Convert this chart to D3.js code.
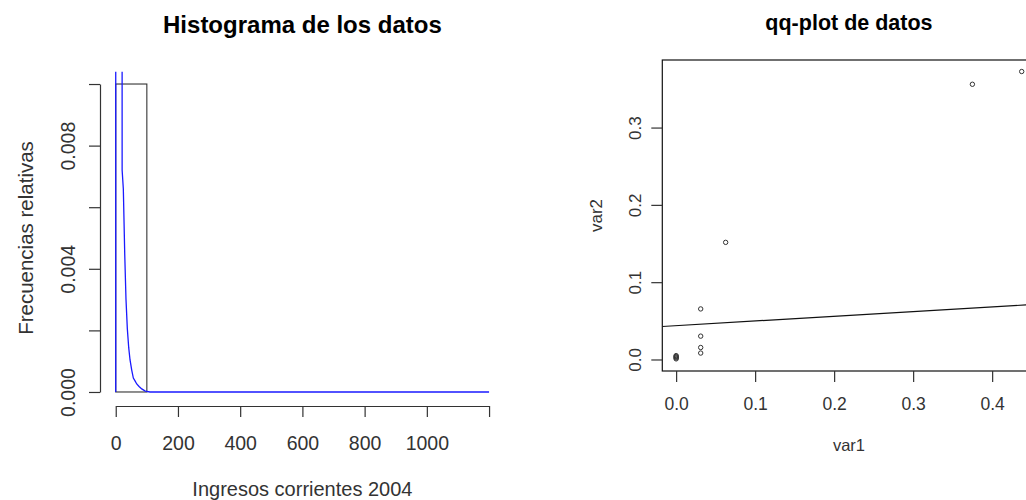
<!DOCTYPE html>
<html>
<head>
<meta charset="utf-8">
<script src="https://cdn.jsdelivr.net/npm/d3@7"></script>
<style>
  body { margin: 0; background: #fff; }
  text { font-family: "Liberation Sans", Arial, sans-serif; fill: #333; }
</style>
</head>
<body>
<svg id="chart"></svg>
<script>
// histogram of the data
const histBreaks = [0, 100, 200, 300, 400, 500, 600, 700, 800, 900, 1000, 1100, 1200];
const histDensity = [0.01, 0, 0, 0, 0, 0, 0, 0, 0, 0, 0, 0];

// fitted density curve (blue)
const densX = [0, 0, 20.3, 20.6, 24.4, 29, 33, 37.3, 41.8, 46, 51.4, 56.6, 62, 67.5, 75, 83.6, 95, 110, 1200];
const densY = [0, 0.02, 0.02, 0.0072, 0.0066, 0.00445, 0.003, 0.00205, 0.00143, 0.00104, 0.00071, 0.00045, 0.00036, 0.00026, 0.00018, 0.0001, 0.00003, 0, 0];

const histYTicks = [0, 0.002, 0.004, 0.006, 0.008, 0.01];
const histYLabels = ['0.000', '', '0.004', '', '0.008', ''];
const histXTicks = [0, 200, 400, 600, 800, 1000, 1200];
const histXLabels = ['0', '200', '400', '600', '800', '1000', ''];

// qq-plot points
const qqX = [0, 0, 0, 0, 0, 0.0311, 0.0311, 0.0311, 0.0311, 0.0627, 0.375, 0.4374];
const qqY = [0.0008, 0.002, 0.003, 0.004, 0.005, 0.0083, 0.0155, 0.0302, 0.0654, 0.1515, 0.356, 0.3725];
const qqLine = { intercept: 0.0437, slope: 0.0608 };

const qqXTicks = [0, 0.1, 0.2, 0.3, 0.4];
const qqYTicks = [0, 0.1, 0.2, 0.3];

const width = 1026,
      height = 500,
      ink = '#333';

const $svg = d3.select('#chart')
  .attr('width', width)
  .attr('height', height);

$svg.append('rect')
  .attr('width', width)
  .attr('height', height)
  .attr('fill', '#fff');

// ---------- left panel ----------
const xL = d3.scaleLinear().domain([-48, 1248]).range([100.8, 504]),
      yL = d3.scaleLinear().domain([-0.0004, 0.0104]).range([404.3, 71.7]);

$svg.append('clipPath')
    .attr('id', 'clipL')
  .append('rect')
    .attr('x', xL.range()[0])
    .attr('y', yL.range()[1])
    .attr('width', xL.range()[1] - xL.range()[0])
    .attr('height', yL.range()[0] - yL.range()[1]);

const bins = histDensity.map((d, i) => ({ x0: histBreaks[i], x1: histBreaks[i + 1], d: d }));

$svg.append('g')
  .selectAll('rect')
  .data(bins)
  .enter()
  .append('rect')
    .attr('x', (b) => xL(b.x0))
    .attr('y', (b) => yL(b.d))
    .attr('width', (b) => xL(b.x1) - xL(b.x0))
    .attr('height', (b) => yL(0) - yL(b.d))
    .attr('fill', 'none')
    .attr('stroke', ink)
    .attr('stroke-width', 1.1);

const densLine = d3.line()
  .x((d) => xL(d[0]))
  .y((d) => yL(d[1]));

$svg.append('path')
  .datum(d3.zip(densX, densY))
  .attr('clip-path', 'url(#clipL)')
  .attr('d', densLine)
  .attr('fill', 'none')
  .attr('stroke', '#1a1aff')
  .attr('stroke-width', 1.3);

const axisYL = $svg.append('g')
  .attr('transform', `translate(${xL.range()[0] - 0.8},0)`)
  .call(d3.axisLeft(yL.copy().domain([0, 0.01]).range([yL(0), yL(0.01)]))
    .tickValues(histYTicks)
    .tickFormat((d, i) => histYLabels[i])
    .tickSize(11)
    .tickSizeOuter(0));

const axisXL = $svg.append('g')
  .attr('transform', `translate(0,${yL.range()[0] + 1.7})`)
  .call(d3.axisBottom(xL.copy().domain([0, 1200]).range([xL(0), xL(1200)]))
    .tickValues(histXTicks)
    .tickFormat((d, i) => histXLabels[i])
    .tickSize(11)
    .tickSizeOuter(0));

// ---------- right panel ----------
const xR = d3.scaleLinear().domain([-0.0175, 0.455]).range([662.3, 1035.6]),
      yR = d3.scaleLinear().domain([-0.0149, 0.3874]).range([371, 60]);

$svg.append('clipPath')
    .attr('id', 'clipR')
  .append('rect')
    .attr('x', xR.range()[0])
    .attr('y', yR.range()[1])
    .attr('width', xR.range()[1] - xR.range()[0])
    .attr('height', yR.range()[0] - yR.range()[1]);

$svg.append('line')
  .attr('clip-path', 'url(#clipR)')
  .attr('x1', xR(xR.domain()[0]))
  .attr('x2', xR(xR.domain()[1]))
  .attr('y1', yR(qqLine.intercept + qqLine.slope * xR.domain()[0]))
  .attr('y2', yR(qqLine.intercept + qqLine.slope * xR.domain()[1]))
  .attr('stroke', '#111')
  .attr('stroke-width', 1.2);

$svg.append('g')
  .selectAll('circle')
  .data(d3.zip(qqX, qqY))
  .enter()
  .append('circle')
    .attr('cx', (d) => xR(d[0]))
    .attr('cy', (d) => yR(d[1]))
    .attr('r', 2.2)
    .attr('fill', 'none')
    .attr('stroke', ink)
    .attr('stroke-width', 1);

$svg.append('rect')
  .attr('x', xR.range()[0])
  .attr('y', yR.range()[1])
  .attr('width', xR.range()[1] - xR.range()[0])
  .attr('height', yR.range()[0] - yR.range()[1])
  .attr('fill', 'none')
  .attr('stroke', '#111')
  .attr('stroke-width', 1.2);

const axisYR = $svg.append('g')
  .attr('transform', `translate(${xR.range()[0]},0)`)
  .call(d3.axisLeft(yR.copy().domain([0, 0.3]).range([yR(0), yR(0.3)]))
    .tickValues(qqYTicks)
    .tickFormat(d3.format('.1f'))
    .tickSize(11)
    .tickSizeOuter(0));

const axisXR = $svg.append('g')
  .attr('transform', `translate(0,${yR.range()[0]})`)
  .call(d3.axisBottom(xR.copy().domain([0, 0.4]).range([xR(0), xR(0.4)]))
    .tickValues(qqXTicks)
    .tickFormat(d3.format('.1f'))
    .tickSize(11)
    .tickSizeOuter(0));

// axis styling, R-like
[axisYL, axisXL, axisYR, axisXR].forEach(($a) => {
  $a.attr('font-family', null).attr('font-size', null);
  $a.selectAll('path, line').attr('stroke', ink).attr('stroke-width', 1.2);
});
axisYR.select('.domain').remove();
axisXR.select('.domain').remove();

axisXL.selectAll('text')
  .attr('y', 44).attr('dy', 0)
  .style('font-size', '19.5px');
axisYL.selectAll('text')
  .attr('transform', 'rotate(-90)')
  .attr('x', 0).attr('y', -25).attr('dy', 0)
  .attr('text-anchor', 'middle')
  .style('font-size', '19.5px');

axisXR.selectAll('text')
  .attr('y', 39).attr('dy', 0)
  .style('font-size', '17.5px');
axisYR.selectAll('text')
  .attr('transform', 'rotate(-90)')
  .attr('x', 0).attr('y', -21).attr('dy', 0)
  .attr('text-anchor', 'middle')
  .style('font-size', '17px');

// ---------- titles and axis labels ----------
$svg.append('text')
  .attr('x', (xL.range()[0] + xL.range()[1]) / 2)
  .attr('y', 33.3)
  .attr('text-anchor', 'middle')
  .style('font-size', '24px')
  .style('font-weight', 'bold')
  .style('fill', '#000')
  .text('Histograma de los datos');

$svg.append('text')
  .attr('x', (xL.range()[0] + xL.range()[1]) / 2)
  .attr('y', 496)
  .attr('text-anchor', 'middle')
  .style('font-size', '20px')
  .text('Ingresos corrientes 2004');

$svg.append('text')
  .attr('transform', `translate(33,${(yL.range()[0] + yL.range()[1]) / 2}) rotate(-90)`)
  .attr('text-anchor', 'middle')
  .style('font-size', '20.5px')
  .text('Frecuencias relativas');

$svg.append('text')
  .attr('x', (xR.range()[0] + xR.range()[1]) / 2)
  .attr('y', 30)
  .attr('text-anchor', 'middle')
  .style('font-size', '21.5px')
  .style('font-weight', 'bold')
  .style('fill', '#000')
  .text('qq-plot de datos');

$svg.append('text')
  .attr('x', (xR.range()[0] + xR.range()[1]) / 2)
  .attr('y', 450.5)
  .attr('text-anchor', 'middle')
  .style('font-size', '16.5px')
  .text('var1');

$svg.append('text')
  .attr('transform', `translate(601.7,${(yR.range()[0] + yR.range()[1]) / 2}) rotate(-90)`)
  .attr('text-anchor', 'middle')
  .style('font-size', '17px')
  .text('var2');
</script>
</body>
</html>
